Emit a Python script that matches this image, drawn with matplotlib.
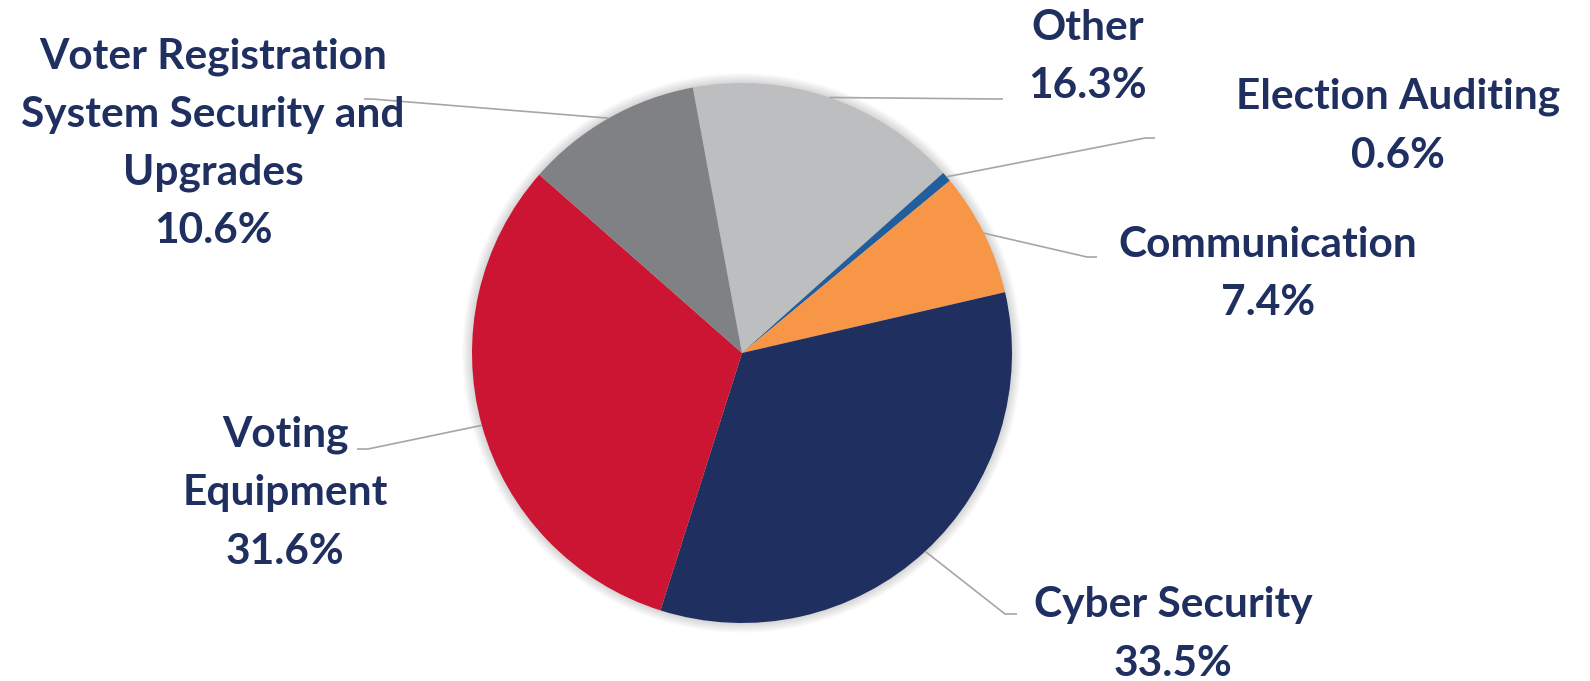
import numpy as np
import matplotlib.pyplot as plt
from matplotlib.patches import Circle

# data
categories = ["Other", "Election Auditing", "Communication", "Cyber Security",
              "Voting Equipment", "Voter Registration System Security and Upgrades"]
label_lines = [["Other"], ["Election Auditing"], ["Communication"], ["Cyber Security"],
               ["Voting", "Equipment"],
               ["Voter Registration", "System Security and", "Upgrades"]]
shares = [16.3, 0.6, 7.4, 33.5, 31.6, 10.6]
colors = ["#BDBEC0", "#215E9B", "#F79646", "#1F2F60", "#CC1433", "#808184"]

# label layout in pixels: text centre x, first baseline y; leader elbow and end
label_x = [1088, 1398, 1268, 1173, 285, 213]
label_y0 = [40, 109, 257, 617, 447, 68]
elbow_pos = [(996, 99), (1145, 138), (1087, 257), (1005, 614), (368, 449), (372, 99)]
end_pos = [(1003, 99), (1155, 138), (1097, 257), (1017, 614), (357, 449), (364, 99)]
PITCH = 58.5

W, H = 1590, 681
CX, CY, R = 742, 353, 270
START = 100.5  # degrees, first slice starts a little left of 12 o'clock

plt.rcParams["font.family"] = ["Lato", "DejaVu Sans"]
TEXT_COLOR = "#1F2F5F"
LINE_COLOR = "#A6A6A6"


def px(x, y):
    """pixel coords (origin top-left) -> data coords (pie radius 1)"""
    return (x - CX) / R, (CY - y) / R


fig = plt.figure(figsize=(W / 100, H / 100), dpi=100)
ax = fig.add_axes([0, 0, 1, 1])

# soft shadow round the pie
for k in range(8):
    ax.add_patch(Circle((0, 0), 1 + 0.0045 * (k + 1), color="#000000",
                        alpha=0.018, lw=0, zorder=0))

wedges, _ = ax.pie(shares, colors=colors, startangle=START, counterclock=False,
                   radius=1, center=(0, 0), frame=True,
                   wedgeprops=dict(linewidth=0, zorder=2))
ax.set_xlim(px(0, 0)[0], px(W, 0)[0])
ax.set_ylim(px(0, H)[1], px(0, 0)[1])
ax.set_aspect("equal")
ax.axis("off")

for w, lines, val, lx, ly0, ep, tp in zip(wedges, label_lines, shares, label_x,
                                           label_y0, elbow_pos, end_pos):
    mid = np.deg2rad((w.theta1 + w.theta2) / 2)
    sx, sy = np.cos(mid), np.sin(mid)
    ex, ey = px(*ep)
    tx, ty = px(*tp)
    ax.plot([sx, ex, tx], [sy, ey, ty], color=LINE_COLOR, lw=1.2,
            solid_capstyle="butt", zorder=3)
    for i, line in enumerate(lines + [f"{val}%"]):
        x, y = px(lx, ly0 + i * PITCH)
        ax.text(x, y, line, ha="center", va="baseline", fontsize=30.5,
                fontweight="bold", color=TEXT_COLOR)

fig.savefig("out.png", dpi=100)
